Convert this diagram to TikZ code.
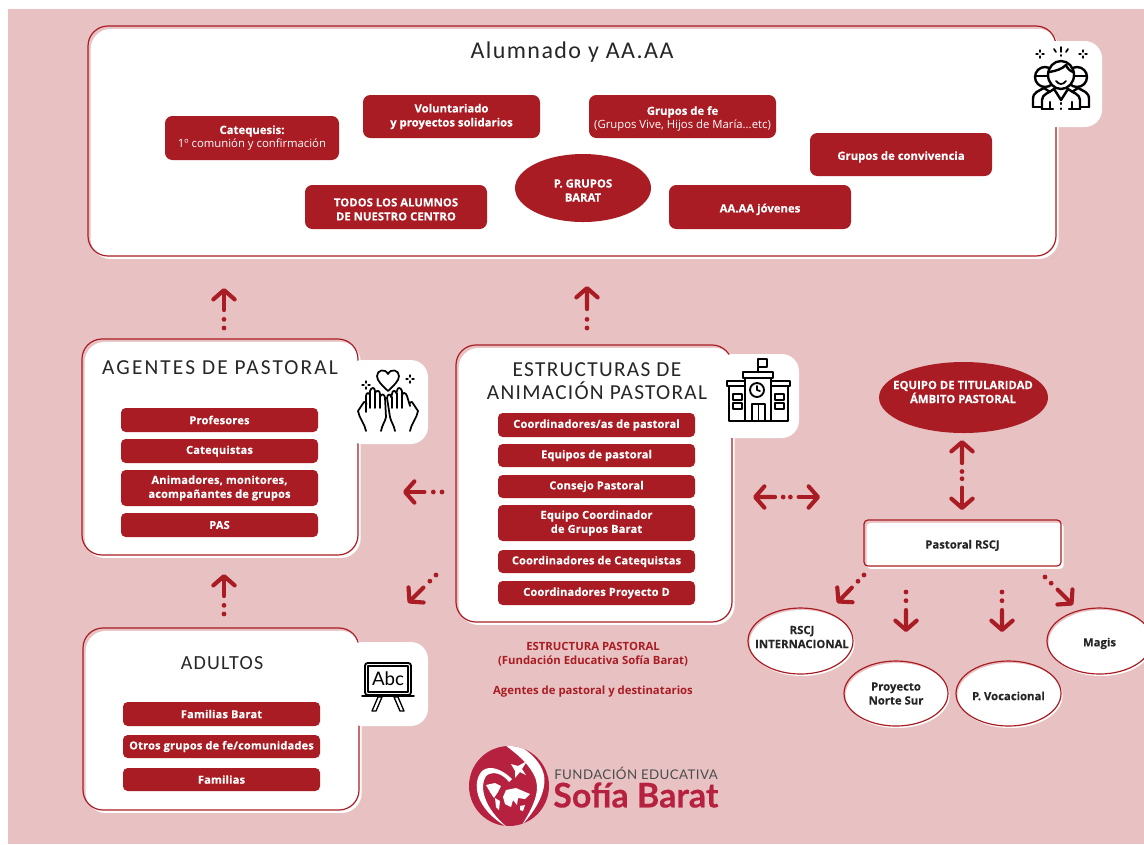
\documentclass[tikz,border=0pt]{standalone}
\usepackage{fontspec}
\setmainfont{Open Sans}
\newfontfamily\titlefont[LetterSpace=6]{Carlito}
\newfontfamily\logofont{Lato}
\usetikzlibrary{arrows.meta,calc,shapes.geometric}
\definecolor{pinkbg}{HTML}{E8C2C3}
\definecolor{brick}{HTML}{A91C23}
\definecolor{logored}{HTML}{B5213F}
\newcommand\lab{\fontsize{8.3}{10.5}\selectfont\bfseries\addfontfeature{LetterSpace=1.5,FakeBold=0.1}}
\newcommand\labb{\fontsize{8.5}{10.5}\selectfont\bfseries\addfontfeature{FakeBold=0.1}}
\newcommand\thin{\fontsize{8.5}{10.5}\selectfont}
\newcommand\low[1]{\raisebox{-1.8pt}[\height][\depth]{#1}}
\tikzset{
  x=0.75pt,y=-0.75pt,
  every node/.style={font=\fontsize{8.5}{10.5}\selectfont},
  card/.style={draw=brick,line width=0.9pt,rounded corners=15pt,inner sep=0pt,
    preaction={fill=white,draw=none,transform canvas={shift={(2pt,-2.2pt)}}}},
  smallcard/.style={card,rounded corners=3pt},
  pill/.style={fill=brick,text=white,rounded corners=5.5pt,inner sep=0pt,align=center},
  rowpill/.style={pill,rounded corners=3.5pt},
  tile/.style={fill=white,rounded corners=13pt,inner sep=0pt},
  oval/.style={ellipse,inner sep=0pt,align=center},
  whiteoval/.style={oval,draw=brick,line width=0.9pt,text=black!85,
    preaction={fill=white,draw=none,transform canvas={shift={(1.2pt,-1.5pt)}}}},
  redoval/.style={oval,fill=brick,text=white},
  dots/.style={brick,line width=3.6pt,line cap=round,dash pattern=on 0pt off 6.5pt},
  closedots/.style={dots,dash pattern=on 0pt off 5.4pt},
  shaft/.style={brick,line width=3.1pt,line cap=round,line join=round,
    -{Straight Barb[length=7pt,width=16pt,line width=3.1pt,round]}},
  titletext/.style={font=\titlefont\fontsize{16}{17.3}\selectfont,text=black!85,align=center,inner sep=0pt},
  ink/.style={line width=1.3pt,draw=black,line join=round,line cap=round},
  boldink/.style={line width=1.8pt,draw=black,line join=round,line cap=round},
}
% name, x1, y1, x2, y2, style, text
\newcommand\bx[7]{\node[#6,minimum width={(#4-#2)*0.75pt},minimum height={(#5-#3)*0.75pt}] (#1) at ({(#2+#4)/2},{(#3+#5)/2}) {#7};}
% one-way dotted arrow: name, tail, tip
\newcommand\darrow[5]{%
  \coordinate (#1a) at (#2,#3); \coordinate (#1b) at (#4,#5);
  \draw[dots] (#1a) -- ($(#1a)!0.25!(#1b)$);
  \draw[shaft] ($(#1a)!0.45!(#1b)$) -- (#1b);}
% two-way dotted arrow: name, end, end
\newcommand\dbarrow[5]{%
  \coordinate (#1a) at (#2,#3); \coordinate (#1b) at (#4,#5);
  \draw[shaft] ($(#1a)!0.33!(#1b)$) -- (#1a);
  \draw[closedots] ($(#1a)!0.45!(#1b)$) -- ($(#1a)!0.57!(#1b)$);
  \draw[shaft] ($(#1a)!0.68!(#1b)$) -- (#1b);}
\newcommand\spark[3]{\draw[ink,line width=#3] (#1,#2-4) -- (#1,#2-2) (#1,#2+2) -- (#1,#2+4) (#1-4,#2) -- (#1-2,#2) (#1+2,#2) -- (#1+4,#2);}
\begin{document}
\begin{tikzpicture}
\useasboundingbox (0,0) rectangle (1144,844);
\fill[white] (0,0) rectangle (1144,844);
\fill[pinkbg] (8,9) rectangle (1144,844);

%% ---- Alumnado box
\bx{main}{88}{26}{1056}{256}{card}{}
\node[titletext,font=\titlefont\fontsize{18}{22}\selectfont] (tmain) at (572,52) {Alumnado y AA.AA};
\bx{cate}{165}{116}{339}{160}{pill}{\labb Catequesis:\\\thin 1º comunión y confirmación}
\bx{volu}{363}{95}{540}{138}{pill}{\labb Voluntariado\\\labb y proyectos solidarios}
\bx{gfe}{589}{95}{776}{138}{pill}{\low{\labb Grupos de fe}\\\low{\thin (Grupos Vive, Hijos de María...etc)}}
\bx{gcon}{810}{133}{992}{176}{pill}{\low{\labb Grupos de convivencia}}
\bx{todos}{305}{185}{487}{229}{pill}{\low{\labb TODOS LOS ALUMNOS}\\\low{\labb DE NUESTRO CENTRO}}
\bx{aajov}{669}{185}{851}{229}{pill}{\low{\labb AA.AA jóvenes}}
\bx{pgb}{515}{154}{651}{222}{redoval}{\low{\labb P. GRUPOS}\\\low{\labb BARAT}}
\bx{t1}{1022}{41}{1102}{127}{tile}{}

%% people icon
\begin{scope}
 \spark{1040}{54}{1pt}\spark{1083}{54}{1pt}
 \draw[ink] (1061,47) -- (1061,52) (1054,49) -- (1056,52) (1068,49) -- (1066,52);
 \draw[ink] (1061,55)--(1061,56);
 % side people
 \draw[boldink] (1045,77) circle (10);
 \draw[boldink] (1077,77) circle (10);
 \draw[boldink] (1035,76) -- (1055,76) (1067,76) -- (1087,76);
 \draw[boldink,fill=white] (1061,75) ellipse (13 and 14);
 \draw[boldink] (1049,72) .. controls (1056,71) and (1062,69) .. (1066,65) .. controls (1067,68) and (1070,71) .. (1073,72);
 \draw[ink] (1056,81) .. controls (1059,85) and (1063,85) .. (1066,81);
 \draw[boldink] (1033,107) -- (1033,99) .. controls (1033,92) and (1039,91) .. (1044,88) -- (1050,92);
 \draw[boldink] (1089,107) -- (1089,99) .. controls (1089,92) and (1083,91) .. (1078,88) -- (1072,92);
 \draw[boldink,fill=white] (1042,109) -- (1042,100) .. controls (1042,94) and (1049,93) .. (1054,89) -- (1061,100) -- (1068,89) .. controls (1073,93) and (1080,94) .. (1080,100) -- (1080,109);
 \draw[boldink] (1033,107) -- (1042,107) (1080,107) -- (1089,107) (1042,109) -- (1053,109) (1069,109) -- (1080,109);
 \draw[boldink] (1061,103) -- (1061,104) (1061,108.5) -- (1061,109) (1050,109) -- (1050,102) (1072,109) -- (1072,102);
\end{scope}

%% ---- Agentes box
\bx{agen}{82}{339}{358}{555}{card}{}
\node[titletext,font=\titlefont\fontsize{16}{18}\selectfont\addfontfeature{LetterSpace=10}] (tagen) at (220,368) {AGENTES DE PASTORAL};
\bx{ag1}{121}{408}{318}{432}{rowpill}{\lab Profesores}
\bx{ag2}{121}{439}{318}{463}{rowpill}{\lab Catequistas}
\bx{ag3}{121}{470}{318}{506}{rowpill}{\lab Animadores, monitores,\\\lab acompañantes de grupos}
\bx{ag4}{121}{513}{318}{537}{rowpill}{\lab PAS}
\bx{t2}{345}{360}{428}{444}{tile}{}

%% hands icon
\begin{scope}
 \draw[ink] (388,391) .. controls (382,385) and (377,381) .. (377,376) .. controls (377,370) and (385,368) .. (388,374) .. controls (391,368) and (399,370) .. (399,376) .. controls (399,381) and (394,385) .. (388,391) -- cycle;
 \spark{366}{385}{1pt}\spark{410}{379}{1pt}
 % left hand
 \draw[ink] (366,431) .. controls (365,424) and (359,418) .. (358,411) -- (364,402) .. controls (366,401) and (367,403) .. (366,406) -- (366,396) .. controls (366,392) and (370,392) .. (370,396) -- (370,391) .. controls (371,387) and (375,387) .. (375,391) -- (375,393) .. controls (376,390) and (380,390) .. (380,394) -- (380,397) .. controls (381,393) and (385,394) .. (385,398) -- (386,417) .. controls (385,422) and (382,425) .. (381,431);
 % right hand
 \draw[ink] (410,431) .. controls (411,424) and (417,418) .. (418,411) -- (412,402) .. controls (410,401) and (409,403) .. (410,406) -- (407,396) .. controls (406,392) and (402,392) .. (402,396) -- (402,391) .. controls (401,387) and (397,387) .. (397,391) -- (396,393) .. controls (396,390) and (392,390) .. (392,394) -- (391,397) .. controls (391,393) and (387,394) .. (387,398) -- (390,417) .. controls (391,422) and (394,425) .. (395,431);
 \draw[ink] (366,406) -- (366,412) (370,396) -- (370,408) (375,393) -- (375,408) (380,397) -- (380,408) (402,396) -- (402,408) (397,393) -- (397,408) (392,397) -- (392,408);
\end{scope}

%% ---- Estructuras box
\bx{estr}{456}{345}{732}{622}{card}{}
\node[titletext] (testr) at (597,381) {ESTRUCTURAS DE\\ANIMACIÓN PASTORAL};
\bx{es1}{498}{413}{695}{437}{rowpill}{\lab Coordinadores/as de pastoral}
\bx{es2}{498}{444}{695}{467}{rowpill}{\lab Equipos de pastoral}
\bx{es3}{498}{475}{695}{498}{rowpill}{\lab Consejo Pastoral}
\bx{es4}{498}{505}{695}{541}{rowpill}{\lab Equipo Coordinador\\\lab de Grupos Barat}
\bx{es5}{498}{550}{695}{573}{rowpill}{\lab Coordinadores de Catequistas}
\bx{es6}{498}{581}{695}{605}{rowpill}{\lab Coordinadores Proyecto D}
\bx{t3}{716}{354}{799}{438}{tile}{}

%% school icon
\begin{scope}
 \draw[ink,line width=1.4pt] (727,381) rectangle (790,386);
 \draw[ink,line width=1.4pt,fill=white] (743,372) rectangle (773,378);
 \draw[ink,line width=1.4pt,fill=white] (745,378) rectangle (771,421);
 \draw[ink,line width=1.4pt] (729,386) -- (729,421) -- (788,421) -- (788,386);
 \draw[ink,line width=1.4pt] (758,372) -- (758,359) -- (767,359) -- (767,367) -- (758,367);
 \draw[ink,line width=1.4pt] (757,390) circle (7);
 \draw[ink] (757,386) -- (757,390) -- (760,391);
 \draw[ink,line width=1.4pt] (752,420) -- (752,404) -- (765,404) -- (765,420) (758.5,404) -- (758.5,420);
 \draw[ink] (733,394) rectangle (742,400) (733,403) rectangle (742,409);
 \draw[ink] (775,394) rectangle (784,400) (775,403) rectangle (784,409);
\end{scope}

%% ---- Adultos box
\bx{adul}{83}{628}{359}{810}{card}{}
\node[titletext,font=\titlefont\fontsize{15}{18}\selectfont] (tadul) at (222,663) {ADULTOS};
\bx{ad1}{123}{702}{320}{726}{rowpill}{\lab Familias Barat}
\bx{ad2}{123}{735}{320}{758}{rowpill}{\lab Otros grupos de fe/comunidades}
\bx{ad3}{123}{768}{320}{791}{rowpill}{\lab Familias}
\bx{t4}{345}{642}{428}{726}{tile}{}

%% board icon
\begin{scope}
 \draw[ink,rounded corners=2pt,line width=1.4pt] (365,663) rectangle (411,695);
 \draw[ink,line width=0.9pt] (368,666) rectangle (408,692);
 \draw[ink] (362,696) -- (414,696);
 \draw[ink,line width=1pt] (372,711) -- (378,697) -- (382,697) -- (376,711) -- cycle;
 \draw[ink,line width=1pt] (404,711) -- (398,697) -- (394,697) -- (400,711) -- cycle;
 \node[inner sep=0pt,font=\logofont\fontsize{14}{14}\selectfont,text=black] (abc) at (388,678.5) {Abc};
\end{scope}

%% ---- Equipo + RSCJ
\bx{equi}{879}{362}{1048}{433}{redoval}{}
\node[inner sep=0pt,align=center,text=white] (equitext) at (963,392) {\labb EQUIPO DE TITULARIDAD\\\labb ÁMBITO PASTORAL};
\bx{prscj}{864}{520}{1061}{566}{smallcard}{\low{\labb\color{black!85} Pastoral RSCJ}}
\bx{rint}{748}{608}{853}{674}{whiteoval}{}
\node[inner sep=0pt,align=center,text=black!85] (rinttext) at (802,637) {\labb RSCJ\\\labb INTERNACIONAL};
\bx{pns}{844}{661}{948}{726}{whiteoval}{\labb Proyecto\\\labb Norte Sur}
\bx{pvoc}{956}{661}{1061}{726}{whiteoval}{\low{\labb P. Vocacional}}
\bx{magi}{1047}{608}{1152}{674}{whiteoval}{\low{\labb Magis}}

%% ---- arrows
\darrow{a1}{224}{328}{224}{288}
\darrow{a2}{587}{328}{587}{286}
\darrow{a3}{442}{492}{403}{492}
\darrow{a4}{436}{575}{408}{603}
\darrow{a5}{224}{614}{224}{574}
\dbarrow{a6}{753}{497}{820}{497}
\dbarrow{a7}{962}{440}{962}{510}
\darrow{a8}{864}{575}{837}{603}
\darrow{a9}{906}{592}{906}{632}
\darrow{a10}{1002}{592}{1002}{632}
\darrow{a11}{1045}{577}{1073}{605}

%% ---- caption
\node[font=\fontsize{8.5}{10.5}\selectfont\bfseries,text=brick,align=center,inner sep=0pt] (capt) at (593,654) {ESTRUCTURA PASTORAL\\(Fundación Educativa Sofía Barat)};
\node[font=\fontsize{8.5}{10.5}\selectfont\bfseries,text=brick,inner sep=0pt] (capb) at (593,692) {Agentes de pastoral y destinatarios};

%% ---- logo
\begin{scope}
 \fill[logored] (509,786) circle (40);
 \clip (509,786) circle (40);
 \fill[white] (518,745) .. controls (530,752) and (541,762) .. (544,775) .. controls (547,793) and (534,812) .. (522,825) .. controls (531,810) and (540,794) .. (536,780) .. controls (531,765) and (518,755) .. (505,745) -- cycle;
 \fill[white] (512,779) .. controls (503,770) and (490,764) .. (482,771) .. controls (472,782) and (474,808) .. (507,827) .. controls (484,808) and (479,787) .. (486,776) .. controls (493,770) and (503,774) .. (509,782) -- cycle;
 \fill[white] (511,764) -- (518,766) -- (527,761) -- (522,769) -- (526,775) -- (520,772) -- (515,778) -- (515,771) -- cycle;
 \fill[white] (486,785) -- (495,783) -- (501,786) -- (498,792) -- (494,798) -- (490,792) -- cycle;
 \fill[white] (495,798) -- (500,801) -- (499,810) -- (496,807) -- cycle;
 \fill[white] (506,790) -- (516,788) -- (530,794) -- (525,799) -- (518,798) -- (517,805) -- (513,800) -- (511,807) -- (505,804) -- (503,797) -- cycle;
 \fill[white] (520,806) -- (525,805) -- (523,811) -- (520,810) -- cycle;
\end{scope}
\node[anchor=west,inner sep=0pt,text=black!70,font=\logofont\fontsize{10}{10}\selectfont\addfontfeature{LetterSpace=3}] (fund) at (554,773) {FUNDACIÓN EDUCATIVA};
\node[anchor=west,inner sep=0pt,text=logored,font=\logofont\fontsize{25.5}{25}\selectfont\bfseries\addfontfeature{FakeBold=0.3}] (sofia) at (553,795) {Sofía Barat};
\end{tikzpicture}
\end{document}
